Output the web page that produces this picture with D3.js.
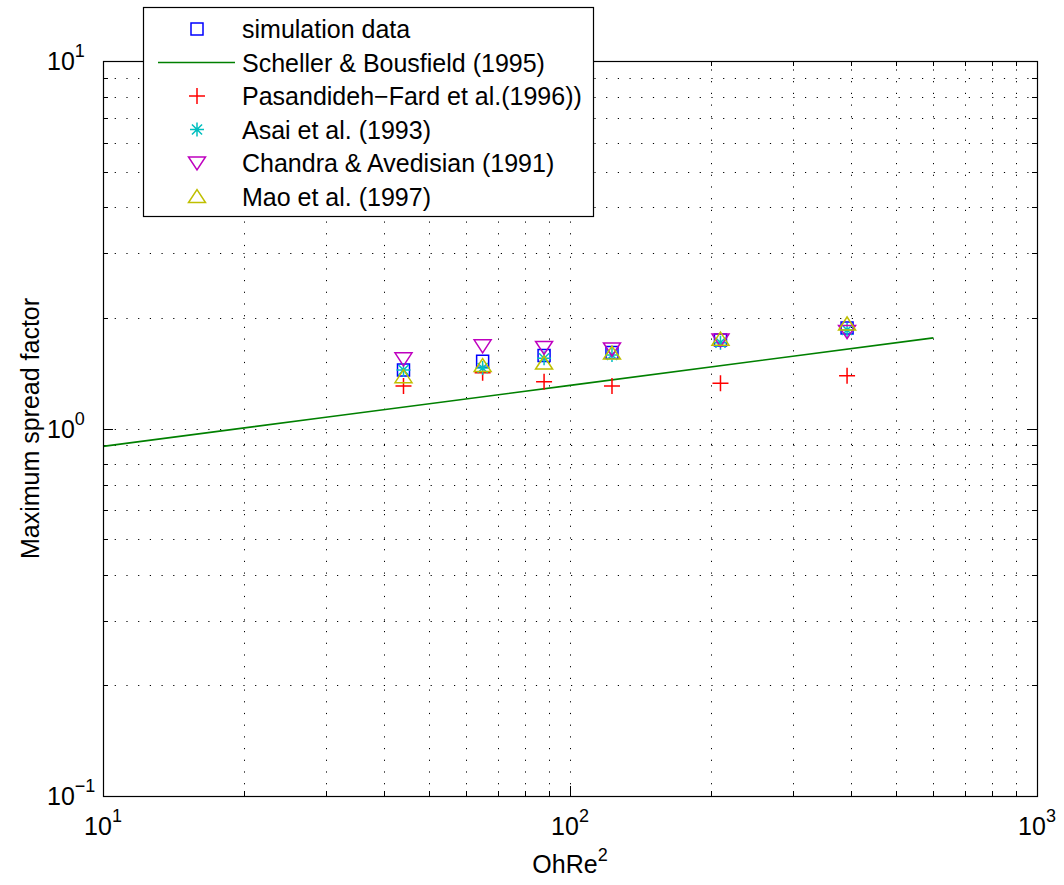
<!DOCTYPE html>
<html>
<head>
<meta charset="utf-8">
<script src="https://cdn.jsdelivr.net/npm/d3@7"></script>
<style>
  body { margin: 0; background: #fff; }
  svg { display: block; font-family: "Liberation Sans", Arial, sans-serif; }
</style>
</head>
<body>
<div id="chart"></div>
<script>
// OhRe^2 positions of the six simulated cases
var ohRe2 = [44, 65, 88, 123, 210, 392];

// maximum spread factor per source
var simulation = [1.443, 1.523, 1.580, 1.610, 1.741, 1.876];
var pasandideh = [1.305, 1.419, 1.341, 1.305, 1.327, 1.392];
var asai = [1.443, 1.461, 1.553, 1.585, 1.712, 1.854];
var chandra = [1.546, 1.677, 1.661, 1.645, 1.741, 1.834];
var mao = [1.385, 1.484, 1.508, 1.605, 1.751, 1.925];

// Scheller & Bousfield correlation curve
var schellerX = [10, 30, 100, 300, 600];
var schellerY = [0.894, 1.073, 1.310, 1.573, 1.764];

var xTicks = [10, 100, 1000];
var yTicks = [0.1, 1, 10];
var xTickExp = ['1', '2', '3'];
var yTickExp = ['\u22121', '0', '1'];

var legendLabels = [
  'simulation data',
  'Scheller & Bousfield (1995)',
  'Pasandideh\u2212Fard et al.(1996))',
  'Asai et al. (1993)',
  'Chandra & Avedisian (1991)',
  'Mao et al. (1997)'
];

var W = 1064, H = 885;
var margin = { top: 61, right: 27, bottom: 89, left: 103 };
var width = W - margin.left - margin.right;
var height = H - margin.top - margin.bottom;
var fontSize = '25px', supSize = '18px';

var x = d3.scaleLog().domain([10, 1000]).range([0, width]);
var y = d3.scaleLog().domain([0.1, 10]).range([height, 0]);

var svg = d3.select('#chart').append('svg')
    .attr('width', W)
    .attr('height', H);

svg.append('rect').attr('width', W).attr('height', H).style('fill', '#fff');

var plot = svg.append('g')
    .attr('transform', 'translate(' + margin.left + ',' + margin.top + ')');

// all decade ticks incl. minor ones
function logTicks(lo, hi) {
  var out = [];
  for (var d = lo; d < hi; d *= 10) {
    for (var k = 1; k < 10; k++) out.push(d * k);
  }
  out.push(hi);
  return out;
}
var xAll = logTicks(10, 1000);
var yAll = logTicks(0.1, 10);
var isMajor = function (v) { return Math.abs(Math.log10(v) - Math.round(Math.log10(v))) < 1e-9; };

// dotted grid
var grid = plot.append('g')
    .style('stroke', '#000')
    .style('stroke-width', 1)
    .style('stroke-dasharray', '1.2,10.5');

grid.selectAll('line.gx')
    .data(xAll.slice(1, -1))
  .enter().append('line')
    .attr('x1', function (d) { return Math.round(x(d)) + 0.5; })
    .attr('x2', function (d) { return Math.round(x(d)) + 0.5; })
    .attr('y1', height)
    .attr('y2', 0);

grid.selectAll('line.gy')
    .data(yAll.slice(1, -1))
  .enter().append('line')
    .attr('y1', function (d) { return Math.round(y(d)) + 0.5; })
    .attr('y2', function (d) { return Math.round(y(d)) + 0.5; })
    .attr('x1', 0)
    .attr('x2', width);

// tick marks on all four sides
var ticks = plot.append('g').style('stroke', '#000').style('stroke-width', 1);
xAll.forEach(function (d) {
  var len = isMajor(d) ? 10 : 5;
  var px = Math.round(x(d)) + 0.5;
  ticks.append('line').attr('x1', px).attr('x2', px).attr('y1', height).attr('y2', height - len);
  ticks.append('line').attr('x1', px).attr('x2', px).attr('y1', 0).attr('y2', len);
});
yAll.forEach(function (d) {
  var len = isMajor(d) ? 10 : 5;
  var py = Math.round(y(d)) + 0.5;
  ticks.append('line').attr('y1', py).attr('y2', py).attr('x1', 0).attr('x2', len);
  ticks.append('line').attr('y1', py).attr('y2', py).attr('x1', width).attr('x2', width - len);
});

// marker shapes
function markerPath(type, s) {
  switch (type) {
    case 'square':
      return 'M' + (-s) + ',' + (-s) + 'H' + s + 'V' + s + 'H' + (-s) + 'Z';
    case 'plus':
      return 'M' + (-s) + ',0H' + s + 'M0,' + (-s) + 'V' + s;
    case 'asterisk':
      var a = s * 0.72;
      return 'M' + (-s) + ',0H' + s + 'M0,' + (-s) + 'V' + s +
        'M' + (-a) + ',' + (-a) + 'L' + a + ',' + a +
        'M' + (-a) + ',' + a + 'L' + a + ',' + (-a);
    case 'down':
      return 'M' + (-s) + ',' + (-s * 0.72) + 'H' + s + 'L0,' + (s * 0.82) + 'Z';
    case 'up':
      return 'M' + (-s) + ',' + (s * 0.72) + 'H' + s + 'L0,' + (-s * 0.82) + 'Z';
  }
}

var series = [
  { values: simulation, type: 'square', size: 6, color: '#0000ff' },
  { values: pasandideh, type: 'plus', size: 8, color: '#ff0000' },
  { values: asai, type: 'asterisk', size: 7, color: '#00bfbf' },
  { values: chandra, type: 'down', size: 8.5, color: '#bf00bf' },
  { values: mao, type: 'up', size: 8.5, color: '#bfbf00' }
];

var line = d3.line()
    .x(function (d) { return x(d[0]); })
    .y(function (d) { return y(d[1]); });

function drawSeries(s) {
  plot.append('g').selectAll('path')
      .data(s.values)
    .enter().append('path')
      .attr('transform', function (d, i) { return 'translate(' + x(ohRe2[i]) + ',' + y(d) + ')'; })
      .attr('d', markerPath(s.type, s.size))
      .style('fill', 'none')
      .style('stroke', s.color)
      .style('stroke-width', 1.5);
}

drawSeries(series[0]);

plot.append('path')
    .datum(d3.zip(schellerX, schellerY))
    .attr('d', line)
    .style('fill', 'none')
    .style('stroke', '#008000')
    .style('stroke-width', 1.6);

series.slice(1).forEach(drawSeries);

// axes box
plot.append('rect')
    .attr('x', 0.5).attr('y', 0.5)
    .attr('width', width).attr('height', height)
    .style('fill', 'none')
    .style('stroke', '#000')
    .style('stroke-width', 1.2);

// tick labels: 10 with superscript exponent
var xLab = plot.append('g').style('font-size', fontSize).style('fill', '#000');
xTicks.forEach(function (d, i) {
  var t = xLab.append('text')
      .attr('x', x(d))
      .attr('y', height + 39)
      .attr('text-anchor', 'middle');
  t.append('tspan').text('10');
  t.append('tspan').attr('dy', -13).style('font-size', supSize).text(xTickExp[i]);
});

var yLab = plot.append('g').style('font-size', fontSize).style('fill', '#000');
yTicks.forEach(function (d, i) {
  var t = yLab.append('text')
      .attr('x', -56)
      .attr('y', y(d) + 9)
      .attr('text-anchor', 'start');
  t.append('tspan').text('10');
  t.append('tspan').attr('dy', -13).style('font-size', supSize).text(yTickExp[i]);
});

// axis titles
var xt = svg.append('text')
    .attr('x', margin.left + x(100))
    .attr('y', 873)
    .attr('text-anchor', 'middle')
    .style('font-size', fontSize);
xt.append('tspan').text('OhRe');
xt.append('tspan').attr('dy', -12).style('font-size', supSize).text('2');

svg.append('text')
    .attr('transform', 'translate(39,' + (margin.top + y(1)) + ') rotate(-90)')
    .attr('text-anchor', 'middle')
    .style('font-size', fontSize)
    .text('Maximum spread factor');

// legend box
var legend = svg.append('g');
legend.append('rect')
    .attr('x', 143.5).attr('y', 7.5)
    .attr('width', 450).attr('height', 209)
    .style('fill', '#fff')
    .style('stroke', '#000')
    .style('stroke-width', 1.2);

var rowY = function (i) { return 29 + i * 33.5; };

legendLabels.forEach(function (label, i) {
  var cy = rowY(i);
  if (i === 1) {
    legend.append('line')
        .attr('x1', 158).attr('x2', 235)
        .attr('y1', cy).attr('y2', cy)
        .style('stroke', '#008000')
        .style('stroke-width', 1.6);
  } else {
    var s = series[i === 0 ? 0 : i - 1];
    legend.append('path')
        .attr('transform', 'translate(197,' + cy + ')')
        .attr('d', markerPath(s.type, s.size))
        .style('fill', 'none')
        .style('stroke', s.color)
        .style('stroke-width', 1.5);
  }
  legend.append('text')
      .attr('x', 242)
      .attr('y', cy + 9)
      .style('font-size', fontSize)
      .text(label);
});
</script>
</body>
</html>
